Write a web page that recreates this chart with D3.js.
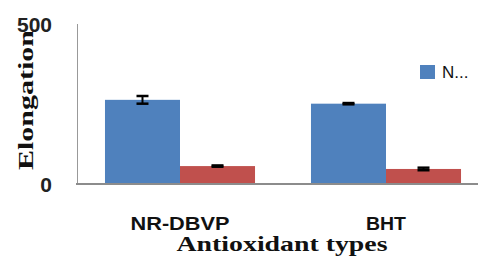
<!DOCTYPE html>
<html>
<head>
<meta charset="utf-8">
<script src="https://cdn.jsdelivr.net/npm/d3@7"></script>
<style>
  body { margin: 0; background: #fff; }
  svg { display: block; }
</style>
</head>
<body>
<svg id="chart" width="478" height="256"></svg>
<script>
// data
const categories = ['NR-DBVP', 'BHT'];
const seriesNames = ['N...', 'S2'];
const seriesValues = [
  [263, 251],
  [56, 47]
];
const seriesErrors = [
  [12, 2],
  [2, 4]
];
const yTicks = [0, 500];
const colors = ['#4F81BD', '#C0504D'];

const svg = d3.select('#chart');

const x0 = d3.scaleBand().domain(categories).range([77, 489]).padding(0);
const x1 = d3
  .scaleBand()
  .domain(seriesNames)
  .range([0, x0.bandwidth()])
  .paddingOuter(0.373)
  .paddingInner(0);
const y = d3.scaleLinear().domain([0, 500]).range([184, 24]);

// y axis line
svg
  .append('line')
  .attr('x1', 77.5)
  .attr('x2', 77.5)
  .attr('y1', y(500))
  .attr('y2', y(0))
  .attr('stroke', '#999')
  .attr('stroke-width', 1);

let rows = [];
seriesNames.forEach((s, si) => {
  categories.forEach((c, ci) => {
    rows.push({ s: s, si: si, c: c, v: seriesValues[si][ci], e: seriesErrors[si][ci] });
  });
});

svg
  .selectAll('rect.bar')
  .data(rows)
  .join('rect')
  .attr('class', 'bar')
  .attr('x', (d) => x0(d.c) + x1(d.s))
  .attr('y', (d) => y(d.v))
  .attr('width', x1.bandwidth())
  .attr('height', (d) => y(0) - y(d.v))
  .attr('fill', (d) => colors[d.si]);

// error bars
let err = svg.selectAll('g.err').data(rows).join('g').attr('class', 'err');
err
  .append('line')
  .attr('x1', (d) => x0(d.c) + x1(d.s) + x1.bandwidth() / 2)
  .attr('x2', (d) => x0(d.c) + x1(d.s) + x1.bandwidth() / 2)
  .attr('y1', (d) => y(d.v + d.e))
  .attr('y2', (d) => y(d.v - d.e))
  .attr('stroke', '#000')
  .attr('stroke-width', 2);
err
  .selectAll('line.cap')
  .data((d) => [d.v + d.e, d.v - d.e].map((v) => ({ d: d, v: v })))
  .join('line')
  .attr('class', 'cap')
  .attr('x1', (p) => x0(p.d.c) + x1(p.d.s) + x1.bandwidth() / 2 - 6)
  .attr('x2', (p) => x0(p.d.c) + x1(p.d.s) + x1.bandwidth() / 2 + 6)
  .attr('y1', (p) => y(p.v))
  .attr('y2', (p) => y(p.v))
  .attr('stroke', '#000')
  .attr('stroke-width', 2.5);

// x axis line
svg
  .append('line')
  .attr('x1', 76)
  .attr('x2', 478)
  .attr('y1', y(0))
  .attr('y2', y(0))
  .attr('stroke', '#8c8c8c')
  .attr('stroke-width', 2);

// y tick labels
svg
  .selectAll('text.ytick')
  .data(yTicks)
  .join('text')
  .attr('class', 'ytick')
  .attr('x', 52)
  .attr('y', (d) => y(d))
  .attr('dy', '0.36em')
  .attr('text-anchor', 'end')
  .attr('font-family', 'Liberation Sans, Arial, sans-serif')
  .attr('font-weight', 'bold')
  .attr('font-size', 21)
  .attr('fill', '#222')
  .text((d) => d);

// x tick labels
svg
  .selectAll('text.xtick')
  .data(categories)
  .join('text')
  .attr('class', 'xtick')
  .attr('x', (d) => x0(d) + x0.bandwidth() / 2)
  .attr('y', 230)
  .attr('text-anchor', 'middle')
  .attr('font-family', 'Liberation Sans, Arial, sans-serif')
  .attr('font-weight', 'bold')
  .attr('font-size', 18)
  .attr('fill', '#111')
  .attr('textLength', (d) => (d === 'BHT' ? 40 : 99))
  .attr('lengthAdjust', 'spacingAndGlyphs')
  .text((d) => d);

// axis titles
svg
  .append('text')
  .attr('x', 282)
  .attr('y', 251)
  .attr('text-anchor', 'middle')
  .attr('font-family', 'Liberation Serif, Times New Roman, serif')
  .attr('font-weight', 'bold')
  .attr('font-size', 22)
  .attr('fill', '#111')
  .attr('textLength', 211)
  .attr('lengthAdjust', 'spacingAndGlyphs')
  .text('Antioxidant types');

svg
  .append('text')
  .attr('transform', 'translate(33,100) rotate(-90)')
  .attr('text-anchor', 'middle')
  .attr('font-family', 'Liberation Serif, Times New Roman, serif')
  .attr('font-weight', 'bold')
  .attr('font-size', 22)
  .attr('fill', '#111')
  .attr('textLength', 140)
  .attr('lengthAdjust', 'spacingAndGlyphs')
  .text('Elongation');

// legend (only first entry visible)
let legend = svg.append('g').attr('transform', 'translate(420,65)');
legend.append('rect').attr('width', 15).attr('height', 14).attr('fill', colors[0]);
legend
  .append('text')
  .attr('x', 22)
  .attr('y', 7)
  .attr('dy', '0.36em')
  .attr('font-family', 'Liberation Sans, Arial, sans-serif')
  .attr('font-size', 17)
  .attr('fill', '#111')
  .text(seriesNames[0]);
</script>
</body>
</html>
